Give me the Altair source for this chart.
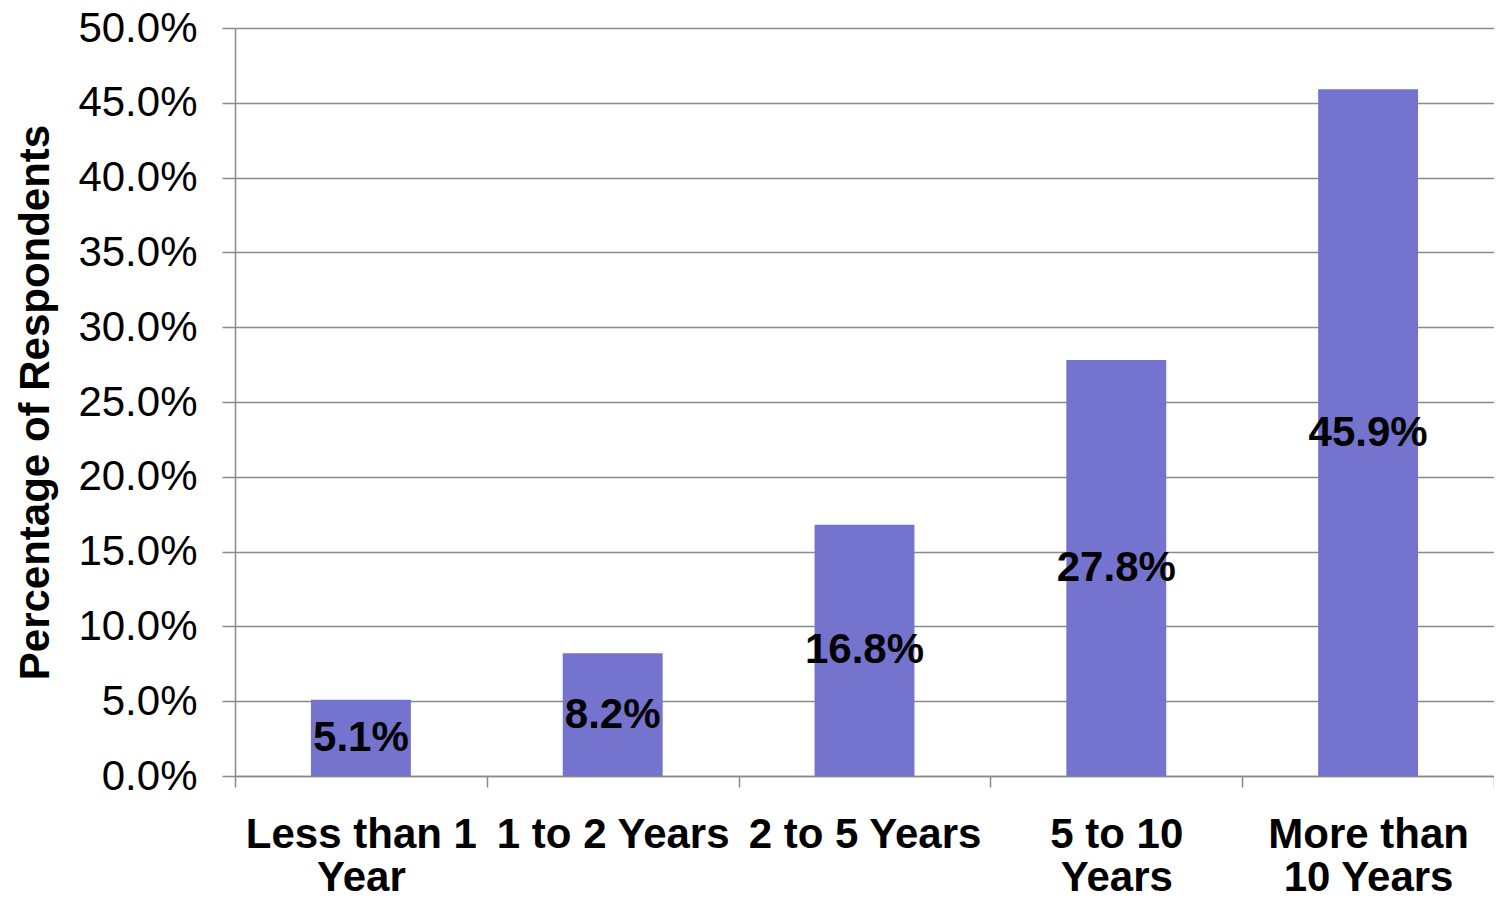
import altair as alt
import pandas as pd

categories = ["Less than 1|Year", "1 to 2 Years", "2 to 5 Years", "5 to 10|Years", "More than|10 Years"]
values = [0.051, 0.082, 0.168, 0.278, 0.459]

df = pd.DataFrame({"cat": categories, "val": values})
df["mid"] = df["val"] / 2

FONT = "Liberation Sans"
GRID = "#8a8a8a"
BAR = "#7474CF"

x_enc = alt.X(
    "cat:N",
    sort=categories,
    scale=alt.Scale(paddingInner=0, paddingOuter=0),
    axis=alt.Axis(
        title=None,
        labelExpr="split(datum.label, '|')",
        labelAngle=0,
        labelFont=FONT,
        labelFontSize=42,
        labelFontWeight="bold",
        labelColor="black",
        labelLineHeight=43,
        labelPadding=27,
        labelLimit=400,
        labelOverlap=False,
        labelBaseline="top",
        tickBand="extent",
        tickSize=11,
        tickColor=GRID,
        tickWidth=1.5,
        domainColor=GRID,
        domainWidth=1.5,
        grid=False,
    ),
)

bars = alt.Chart(df).mark_bar(
    color=BAR, width=alt.RelativeBandSize(100 / 252)
).encode(
    x=x_enc,
    y=alt.Y(
        "val:Q",
        scale=alt.Scale(domain=[0, 0.5], nice=False),
        axis=alt.Axis(
            title="Percentage of Respondents",
            titleFont=FONT,
            titleFontSize=42,
            titleFontWeight="bold",
            titleColor="black",
            titleAngle=-90,
            titleX=-200,
            titleY=374,
            titleAlign="center",
            titleBaseline="middle",
            values=[i * 0.05 for i in range(11)],
            format=".1%",
            labelFont=FONT,
            labelFontSize=42,
            labelColor="black",
            labelPadding=25,
            tickSize=13,
            tickColor=GRID,
            tickWidth=1.5,
            domainColor=GRID,
            domainWidth=1.5,
            grid=True,
            gridColor=GRID,
            gridWidth=1.5,
        ),
    ),
)

labels = alt.Chart(df).mark_text(
    font=FONT, fontSize=42, fontWeight="bold", color="black", baseline="middle"
).encode(
    x=alt.X("cat:N", sort=categories),
    y=alt.Y("mid:Q"),
    text=alt.Text("val:Q", format=".1%"),
)

chart = alt.layer(bars, labels).properties(
    width=1259,
    height=748,
    autosize=alt.AutoSizeParams(type="none"),
    padding={"left": 227, "top": 20, "right": 0, "bottom": 122},
).configure_view(stroke=None)

chart.save("out.html", embed_options={"renderer": "svg", "actions": False})
